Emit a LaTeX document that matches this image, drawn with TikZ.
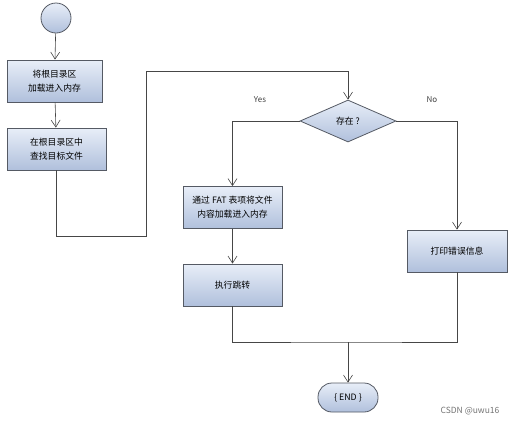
\documentclass[tikz,border=0pt]{standalone}
\usepackage{fontspec}
\setmainfont{Noto Sans CJK SC}
\usetikzlibrary{arrows.meta,positioning,shapes.geometric}
\definecolor{boxtop}{RGB}{232,238,248}
\definecolor{boxbot}{RGB}{176,192,220}
\definecolor{rim}{RGB}{85,90,100}
\definecolor{wire}{RGB}{70,70,70}
\tikzset{
    %Define standard arrow tip
    >={Straight Barb[length=7pt,width=9pt]},
    %Define style for boxes
    kasten/.style={
           rectangle,
           draw=rim, thick,
           top color=boxtop, bottom color=boxbot,
           minimum width=96pt,
           minimum height=42pt,
           align=center,
           font=\fontsize{8.8}{14}\selectfont},
    % Define style for the question
    frage/.style={
           diamond,
           draw=rim, thick,
           top color=boxtop, bottom color=boxbot,
           minimum width=96pt,
           minimum height=42pt,
           inner sep=0pt,
           font=\fontsize{8.8}{10}\selectfont},
    % Define arrow style
    pil/.style={
           ->,
           draw=wire,
           semithick},
    linie/.style={
           draw=wire,
           semithick},
    marke/.style={font=\fontsize{8}{9}\selectfont, text=black!75}
}
\begin{document}
\begin{tikzpicture}[x=1pt,y=-1pt]
\useasboundingbox (0,0) rectangle (517,424);

\node[circle, draw=rim, thick, top color=boxtop, bottom color=boxbot,
      minimum size=30pt, inner sep=0pt] (start) at (56,18) {};
\node[kasten, minimum width=95pt] (laden) at (54.5,81) {将根目录区\\加载进入内存};
\node[kasten, minimum width=99pt] (suchen) at (56.5,149) {在根目录区中\\查找目标文件};
\node[frage] (gibt) at (348,121) {存在 ?};
\node[kasten, minimum width=99pt] (fat) at (232.5,207.5) {通过 FAT 表项将文件\\内容加载进入内存};
\node[kasten, minimum width=99pt] (sprung) at (232.5,285) {执行跳转};
\node[kasten, minimum width=100pt] (fehler) at (457,251) {打印错误信息};
\node[rectangle, rounded corners=14pt, draw=rim, thick,
      top color=boxtop, bottom color=boxbot,
      minimum width=60pt, minimum height=29pt,
      font=\fontsize{8.8}{10}\selectfont] (ende) at (348,397.5) {\{ END \}};

\node[marke] (ja) at (260,100) {Yes};
\node[marke] (nein) at (432,100) {No};
\node[font=\fontsize{8.5}{10}\selectfont, text=black!55] (csdn) at (470,411) {CSDN @uwu16};

\coordinate (unten) at (146,236);
\coordinate (oben) at (146,71);
\coordinate (treff) at (348,342);

\draw[pil] (start) -- (laden);
\draw[pil] (laden) -- (suchen);
\draw[pil] (suchen.south) |- (unten) -- (oben) -| (gibt.north);
\draw[pil] (gibt.west) -| (fat.north);
\draw[pil] (gibt.east) -| (fehler.north);
\draw[pil] (fat) -- (sprung);
\draw[linie] (sprung.south) |- (treff) -| (fehler.south);
\draw[pil] (treff) -- (ende);
\end{tikzpicture}
\end{document}
